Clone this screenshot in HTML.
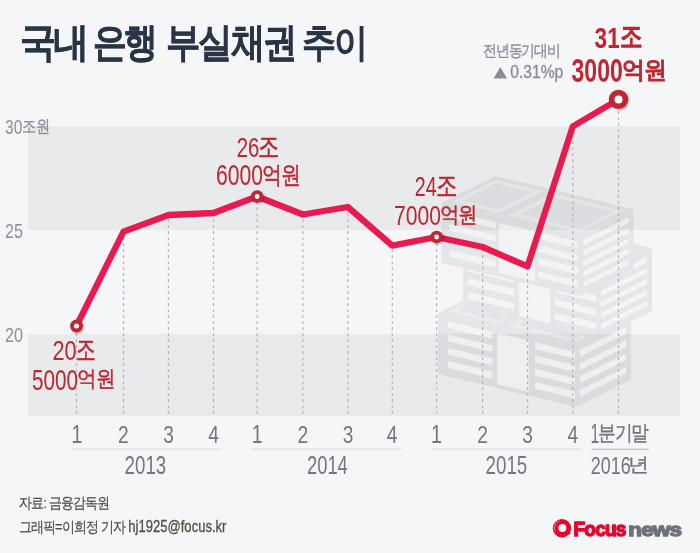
<!DOCTYPE html>
<html><head><meta charset="utf-8"><style>
html,body{margin:0;padding:0;background:#f5f6f8;width:700px;height:553px;overflow:hidden}
svg{display:block;font-family:"Liberation Sans",sans-serif}
</style></head><body>
<svg width="700" height="553" viewBox="0 0 700 553">
<defs>
<filter id="sh" x="-50%" y="-50%" width="200%" height="200%"><feDropShadow dx="1" dy="1" stdDeviation="0.8" flood-color="#000" flood-opacity="0.35"/></filter>
</defs>
<rect width="700" height="553" fill="#f5f6f8"/>
<rect x="28" y="126" width="652" height="104" fill="#e9eaec"/>
<rect x="28" y="334" width="652" height="82" fill="#e9eaec"/>
<defs><mask id="bm0"><rect width="700" height="553" fill="#fff"/><polygon points="518.0,216.0 463.0,243.5 463.0,306.5 597.0,338.7 652.0,311.2 652.0,248.2" fill="#000"/><polygon points="495.5,176.0 441.5,203.0 441.5,263.0 579.5,296.1 633.5,269.1 633.5,209.1" fill="#000"/></mask><mask id="bm1"><rect width="700" height="553" fill="#fff"/><polygon points="495.5,176.0 441.5,203.0 441.5,263.0 579.5,296.1 633.5,269.1 633.5,209.1" fill="#000"/></mask></defs><g opacity="0.072" fill="#1e2337"><polygon points="438.0,313.0 576.0,346.1 631.0,318.6 493.0,285.5"/><polygon points="438.0,313.0 576.0,346.1 576.0,407.1 438.0,374.0"/><polygon points="576.0,346.1 631.0,318.6 631.0,379.6 576.0,407.1"/><polygon points="463.0,243.5 597.0,275.7 652.0,248.2 518.0,216.0"/><polygon points="463.0,243.5 597.0,275.7 597.0,338.7 463.0,306.5"/><polygon points="597.0,275.7 652.0,248.2 652.0,311.2 597.0,338.7"/><polygon points="441.5,203.0 579.5,236.1 633.5,209.1 495.5,176.0"/><polygon points="441.5,203.0 579.5,236.1 579.5,296.1 441.5,263.0"/><polygon points="579.5,236.1 633.5,209.1 633.5,269.1 579.5,296.1"/></g><g mask="url(#bm0)"><g opacity="0.55" fill="#fff"><polygon points="448.0,311.7 497.4,323.6 542.4,301.1 493.0,289.2" fill="rgba(255,255,255,0.45)"/><polygon points="507.4,326.0 576.0,342.4 621.0,319.9 552.4,303.5" fill="rgba(255,255,255,0.45)"/><polygon points="448.0,321.4 492.5,332.1 492.5,338.7 448.0,328.0"/><polygon points="448.0,334.6 492.5,345.3 492.5,352.0 448.0,341.3"/><polygon points="448.0,347.9 492.5,358.6 492.5,365.2 448.0,354.5"/><polygon points="448.0,361.1 492.5,371.8 492.5,378.5 448.0,367.8"/><polygon points="497.4,333.3 528.7,340.8 528.7,391.8 497.4,384.3"/><polygon points="535.0,342.3 575.0,351.9 575.0,358.5 535.0,348.9"/><polygon points="535.0,355.5 575.0,365.1 575.0,371.8 535.0,362.2"/><polygon points="535.0,368.8 575.0,378.4 575.0,385.0 535.0,375.4"/><polygon points="535.0,382.0 575.0,391.6 575.0,398.3 535.0,388.7"/><polygon points="580.0,350.1 626.0,327.1 626.0,333.7 580.0,356.7"/><polygon points="580.0,363.4 626.0,340.4 626.0,347.0 580.0,370.0"/><polygon points="580.0,376.6 626.0,353.6 626.0,360.2 580.0,383.2"/><polygon points="580.0,389.9 626.0,366.9 626.0,373.5 580.0,396.5"/></g><g opacity="0.035" fill="#1e2337"><polygon points="458.0,310.4 497.4,319.9 532.4,302.4 493.0,292.9"/><polygon points="517.4,324.7 576.0,338.7 611.0,321.2 552.4,307.2"/></g></g><g mask="url(#bm1)"><g opacity="0.55" fill="#fff"><polygon points="468.0,250.7 514.0,261.7 514.0,268.6 468.0,257.6"/><polygon points="468.0,264.4 514.0,275.5 514.0,282.4 468.0,271.3"/><polygon points="468.0,278.2 514.0,289.2 514.0,296.1 468.0,285.1"/><polygon points="468.0,291.9 514.0,303.0 514.0,309.9 468.0,298.8"/><polygon points="519.0,262.9 550.0,270.4 550.0,323.4 519.0,315.9"/><polygon points="555.0,271.6 596.0,281.4 596.0,288.3 555.0,278.5"/><polygon points="555.0,285.3 596.0,295.2 596.0,302.0 555.0,292.2"/><polygon points="555.0,299.1 596.0,308.9 596.0,315.8 555.0,306.0"/><polygon points="555.0,312.8 596.0,322.7 596.0,329.5 555.0,319.7"/><polygon points="601.0,279.7 647.0,256.7 647.0,262.2 601.0,285.2"/><polygon points="601.0,290.7 647.0,267.7 647.0,273.2 601.0,296.2"/><polygon points="601.0,301.7 647.0,278.7 647.0,284.2 601.0,307.2"/><polygon points="601.0,312.7 647.0,289.7 647.0,295.2 601.0,318.2"/><polygon points="601.0,323.7 647.0,300.7 647.0,306.2 601.0,329.2"/></g><g opacity="0.035" fill="#1e2337"></g></g><g><g opacity="0.55" fill="#fff"><polygon points="451.5,201.7 499.0,213.1 543.0,191.1 495.5,179.7" fill="rgba(255,255,255,0.45)"/><polygon points="509.0,215.5 579.5,232.4 623.5,210.4 553.0,193.5" fill="rgba(255,255,255,0.45)"/><polygon points="449.5,210.9 495.5,222.0 495.5,228.5 449.5,217.4"/><polygon points="449.5,223.9 495.5,235.0 495.5,241.5 449.5,230.4"/><polygon points="449.5,236.9 495.5,248.0 495.5,254.5 449.5,243.4"/><polygon points="449.5,249.9 495.5,261.0 495.5,267.5 449.5,256.4"/><polygon points="499.0,222.8 535.0,231.4 535.0,281.4 499.0,272.8"/><polygon points="538.0,232.2 578.0,241.8 578.0,248.3 538.0,238.7"/><polygon points="538.0,245.2 578.0,254.8 578.0,261.3 538.0,251.7"/><polygon points="538.0,258.2 578.0,267.8 578.0,274.3 538.0,264.7"/><polygon points="538.0,271.2 578.0,280.8 578.0,287.3 538.0,277.7"/><polygon points="583.5,240.1 628.5,217.6 628.5,222.8 583.5,245.3"/><polygon points="583.5,250.5 628.5,228.0 628.5,233.2 583.5,255.7"/><polygon points="583.5,260.9 628.5,238.4 628.5,243.6 583.5,266.1"/><polygon points="583.5,271.3 628.5,248.8 628.5,254.0 583.5,276.5"/><polygon points="583.5,281.7 628.5,259.2 628.5,264.4 583.5,286.9"/></g><g opacity="0.035" fill="#1e2337"><polygon points="461.5,200.4 499.0,209.4 533.0,192.4 495.5,183.4"/><polygon points="519.0,214.2 579.5,228.7 613.5,211.7 553.0,197.2"/></g></g>
<g stroke="#b2b3b8" stroke-width="1.2" stroke-dasharray="2.8 3.2"><line x1="76.5" y1="327.2" x2="76.5" y2="416" /><line x1="123.5" y1="237.2" x2="123.5" y2="416" /><line x1="168.5" y1="219.2" x2="168.5" y2="416" /><line x1="213.5" y1="213.2" x2="213.5" y2="416" /><line x1="257.1" y1="201.2" x2="257.1" y2="416" /><line x1="302.9" y1="219.2" x2="302.9" y2="416" /><line x1="347.8" y1="207.2" x2="347.8" y2="416" /><line x1="392.3" y1="249.2" x2="392.3" y2="416" /><line x1="436.6" y1="237.2" x2="436.6" y2="416" /><line x1="482.6" y1="249.2" x2="482.6" y2="416" /><line x1="527.5" y1="267.2" x2="527.5" y2="416" /><line x1="572.8" y1="129.2" x2="572.8" y2="416" /><line x1="618.5" y1="105.2" x2="618.5" y2="416" /></g>
<rect x="70.8" y="448.5" width="149.8" height="1.6" fill="#e3e4e7"/><rect x="251.9" y="448.5" width="149.1" height="1.6" fill="#e3e4e7"/><rect x="431.4" y="448.5" width="150.4" height="1.6" fill="#e3e4e7"/><rect x="591.7" y="448.5" width="57.1" height="1.6" fill="#c9cacf"/>
<polyline points="76.5,326.0 123.5,231.6 168.5,215.0 213.5,213.0 257.1,196.5 302.9,214.5 347.8,207.0 392.3,245.6 436.6,237.0 482.6,247.0 527.5,266.4 572.8,126.4 618.5,99.4" fill="none" stroke="#e81a50" stroke-width="6.3" stroke-linejoin="round" stroke-linecap="round"/>
<g filter="url(#sh)" fill="#bd2530">
<circle cx="76.5" cy="326" r="6.4"/><circle cx="257.1" cy="196.5" r="6.2"/><circle cx="436.6" cy="237" r="6.2"/><circle cx="618.5" cy="99.4" r="9.6"/>
</g>
<g fill="#fff"><circle cx="76.5" cy="326" r="2.5"/><circle cx="257.1" cy="196.5" r="2.4"/><circle cx="436.6" cy="237" r="2.4"/><circle cx="618.5" cy="99.4" r="4"/></g>
<polygon points="493.6,78.6 507,78.6 500.3,67" fill="#8a8b96"/>
<g opacity="0.999"><text transform="translate(20.04,56.00) scale(0.8995,1)" font-size="40.00" fill="#2a3446" font-weight="bold" letter-spacing="-2.80" stroke="#2a3446" stroke-width="0.40">국내</text>
<text transform="translate(93.16,56.33) scale(0.8425,1)" font-size="40.42" fill="#2a3446" font-weight="bold" letter-spacing="-2.83" stroke="#2a3446" stroke-width="0.40">은행</text>
<text transform="translate(165.62,56.33) scale(0.8573,1)" font-size="40.42" fill="#2a3446" font-weight="bold" letter-spacing="-2.83" stroke="#2a3446" stroke-width="0.40">부실채권</text>
<text transform="translate(302.39,55.71) scale(0.8749,1)" font-size="39.06" fill="#2a3446" letter-spacing="-2.73" stroke="#2a3446" stroke-width="1.56">추이</text>
<text transform="translate(5.07,134.10) scale(0.7761,1)" font-size="20.14" fill="#8e8f9a">30</text>
<text transform="translate(22.07,132.38) scale(0.8336,1)" font-size="17.07" fill="#8e8f9a" letter-spacing="-1.19" stroke="#8e8f9a" stroke-width="0.34">조원</text>
<text transform="translate(4.89,237.90) scale(0.8088,1)" font-size="20.00" fill="#8e8f9a">25</text>
<text transform="translate(4.89,341.70) scale(0.8146,1)" font-size="19.86" fill="#8e8f9a">20</text>
<text transform="translate(52.52,360.43) scale(0.7971,1)" font-size="27.18" fill="#bf2631">20</text>
<text transform="translate(75.91,359.31) scale(0.7070,1)" font-size="27.55" fill="#bf2631" letter-spacing="-1.93" stroke="#bf2631" stroke-width="0.55">조</text>
<text transform="translate(32.07,389.71) scale(0.7084,1)" font-size="29.15" fill="#bf2631">5000</text>
<text transform="translate(77.23,386.40) scale(0.8880,1)" font-size="22.49" fill="#bf2631" letter-spacing="-1.57" stroke="#bf2631" stroke-width="0.45">억원</text>
<text transform="translate(236.68,156.93) scale(0.7425,1)" font-size="27.46" fill="#bf2631">26</text>
<text transform="translate(258.49,155.80) scale(0.7622,1)" font-size="27.83" fill="#bf2631" letter-spacing="-1.95" stroke="#bf2631" stroke-width="0.56">조</text>
<text transform="translate(215.94,185.21) scale(0.7212,1)" font-size="29.30" fill="#bf2631">6000</text>
<text transform="translate(262.16,182.71) scale(0.8305,1)" font-size="23.68" fill="#bf2631" letter-spacing="-1.66" stroke="#bf2631" stroke-width="0.47">억원</text>
<text transform="translate(414.71,196.40) scale(0.7148,1)" font-size="27.57" fill="#bf2631">24</text>
<text transform="translate(435.80,195.01) scale(0.7661,1)" font-size="27.55" fill="#bf2631" letter-spacing="-1.93" stroke="#bf2631" stroke-width="0.55">조</text>
<text transform="translate(393.94,224.72) scale(0.7500,1)" font-size="28.17" fill="#bf2631">7000</text>
<text transform="translate(439.64,222.10) scale(0.8803,1)" font-size="22.49" fill="#bf2631" letter-spacing="-1.57" stroke="#bf2631" stroke-width="0.45">억원</text>
<text transform="translate(594.55,48.10) scale(0.7512,1)" font-size="30.14" fill="#bf2631" font-weight="bold">31</text>
<text transform="translate(620.14,46.45) scale(0.7794,1)" font-size="29.16" fill="#bf2631" letter-spacing="-2.04" stroke="#bf2631" stroke-width="1.46">조</text>
<text transform="translate(571.54,81.57) scale(0.7042,1)" font-size="32.68" fill="#bf2631" font-weight="bold">3000</text>
<text transform="translate(622.25,77.60) scale(0.9564,1)" font-size="24.35" fill="#bf2631" letter-spacing="-1.70" stroke="#bf2631" stroke-width="1.22">억원</text>
<text transform="translate(482.78,56.11) scale(0.8676,1)" font-size="16.44" fill="#8e8f9a" letter-spacing="-1.15" stroke="#8e8f9a" stroke-width="0.36">전년동기대비</text>
<text transform="translate(510.27,78.13) scale(0.8956,1)" font-size="17.48" fill="#8e8f9a" stroke="#8e8f9a" stroke-width="0.38">0.31%p</text>
<text transform="translate(124.56,473.55) scale(0.7472,1)" font-size="25.07" fill="#74757f">2013</text>
<text transform="translate(306.98,473.55) scale(0.7325,1)" font-size="25.07" fill="#74757f">2014</text>
<text transform="translate(485.56,473.55) scale(0.7472,1)" font-size="25.07" fill="#74757f">2015</text>
<text transform="translate(590.43,443.40) scale(0.5804,1)" font-size="27.25" fill="#74757f">1</text>
<text transform="translate(598.48,440.30) scale(0.8460,1)" font-size="20.65" fill="#74757f" letter-spacing="-1.45" stroke="#74757f" stroke-width="0.41">분기말</text>
<text transform="translate(590.80,473.57) scale(0.7691,1)" font-size="23.38" fill="#74757f">2016</text>
<text transform="translate(628.20,471.37) scale(1.1101,1)" font-size="18.64" fill="#74757f" letter-spacing="-1.30" stroke="#74757f" stroke-width="0.37">년</text>
<text transform="translate(18.86,507.52) scale(0.8626,1)" font-size="15.08" fill="#4d524c" letter-spacing="-0.90" stroke="#4d524c" stroke-width="0.23">자료: 금융감독원</text>
<text transform="translate(18.61,531.54) scale(0.8635,1)" font-size="14.97" fill="#4d524c" letter-spacing="-0.90" stroke="#4d524c" stroke-width="0.22">그래픽=이희정 기자</text>
<text transform="translate(573.41,535.67) scale(0.9028,1)" font-size="21.09" fill="#e4062e" font-weight="bold" letter-spacing="-0.84" stroke="#e4062e" stroke-width="1.48">Focus</text>
<text transform="translate(628.36,535.59) scale(1.2342,1)" font-size="18.25" fill="#6d7178" font-weight="bold" letter-spacing="-0.73" stroke="#6d7178" stroke-width="1.28">news</text>
<text transform="translate(128.25,532.33) scale(0.7842,1)" font-size="16.66" fill="#4d524c" stroke="#4d524c" stroke-width="0.33">hj1925@focus.kr</text>
<text transform="translate(71.53,443.10) scale(0.7800,1)" font-size="25.07" fill="#74757f">1</text>
<text transform="translate(118.10,443.10) scale(0.7800,1)" font-size="24.71" fill="#74757f">2</text>
<text transform="translate(163.27,442.86) scale(0.7800,1)" font-size="24.37" fill="#74757f">3</text>
<text transform="translate(208.20,443.10) scale(0.7800,1)" font-size="24.71" fill="#74757f">4</text>
<text transform="translate(251.73,443.10) scale(0.7800,1)" font-size="25.07" fill="#74757f">1</text>
<text transform="translate(297.50,443.10) scale(0.7800,1)" font-size="24.71" fill="#74757f">2</text>
<text transform="translate(342.77,442.86) scale(0.7800,1)" font-size="24.37" fill="#74757f">3</text>
<text transform="translate(386.70,443.10) scale(0.7800,1)" font-size="24.71" fill="#74757f">4</text>
<text transform="translate(431.03,443.10) scale(0.7800,1)" font-size="25.07" fill="#74757f">1</text>
<text transform="translate(477.20,443.10) scale(0.7800,1)" font-size="24.71" fill="#74757f">2</text>
<text transform="translate(522.27,442.86) scale(0.7800,1)" font-size="24.37" fill="#74757f">3</text>
<text transform="translate(567.50,443.10) scale(0.7800,1)" font-size="24.71" fill="#74757f">4</text></g>
<g>
<circle cx="562" cy="528.2" r="9.2" fill="#e4062e"/>
<circle cx="562.4" cy="527.9" r="4" fill="#f5f6f8"/>
<path d="M555.2,531.5 A7.6,7.6 0 0 1 559.5,520.9" fill="none" stroke="#f5f6f8" stroke-width="0.7" opacity="0.7"/>
<path d="M566.2,532.5 L571.2,533.2 L567.5,535" fill="#e4062e"/>
</g>
</svg>
</body></html>
